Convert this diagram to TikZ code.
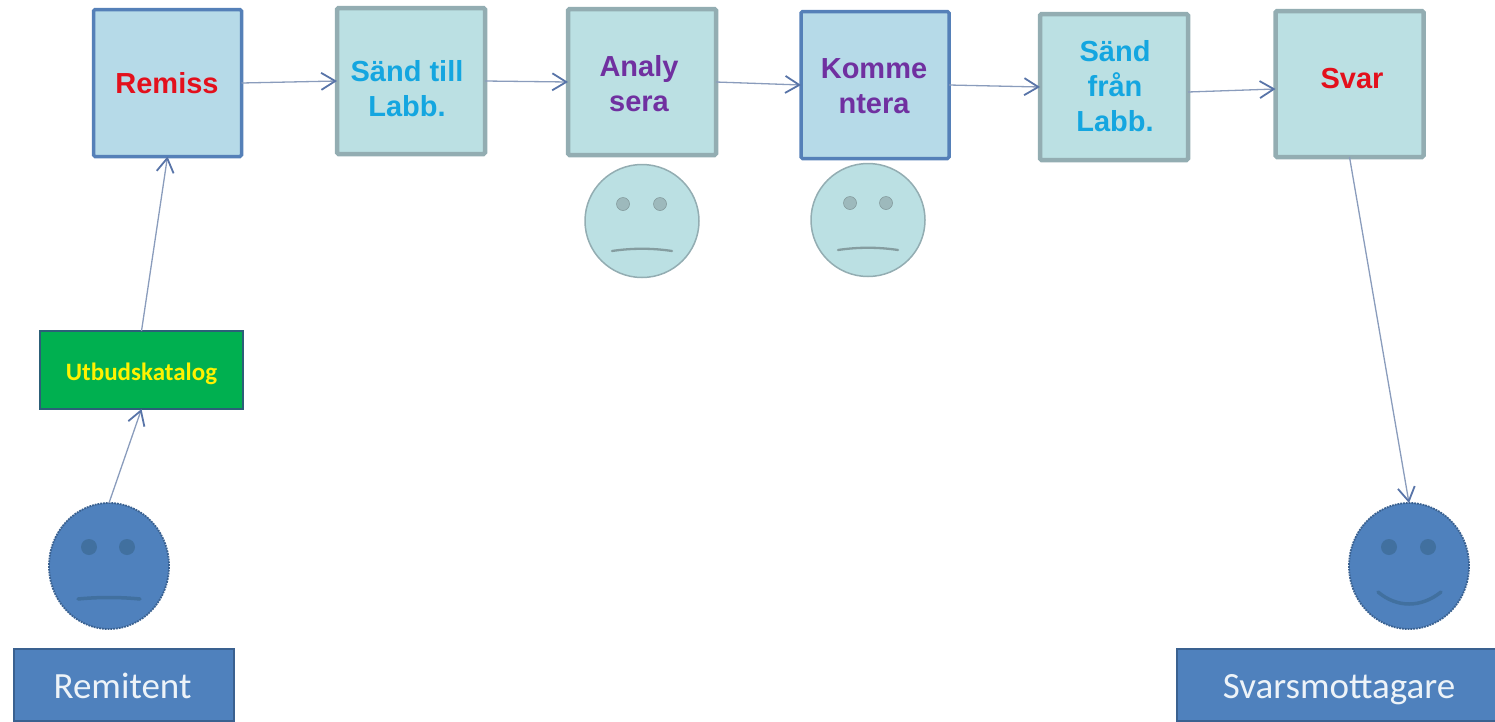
\documentclass[tikz,border=0pt]{standalone}
\usepackage{fontspec}
\setmainfont{Liberation Sans}
\newfontfamily\carl{Carlito}
\usetikzlibrary{arrows.meta,shapes.geometric}
\definecolor{bluefill}{HTML}{B6DAE8}
\definecolor{blueedge}{HTML}{5580B8}
\definecolor{tealfill}{HTML}{BBE0E3}
\definecolor{tealedge}{HTML}{93ADB2}
\definecolor{linec}{HTML}{8A9CBC}
\definecolor{tipc}{HTML}{5874A8}
\definecolor{txtred}{HTML}{E3101C}
\definecolor{txtblue}{HTML}{14A6E0}
\definecolor{txtpurple}{HTML}{7030A0}
\definecolor{gfill}{HTML}{00B050}
\definecolor{gedge}{HTML}{2C5F78}
\definecolor{sblue}{HTML}{4F81BD}
\definecolor{sedge}{HTML}{3A6190}
\definecolor{teye}{HTML}{9DB9BC}
\definecolor{beye}{HTML}{41709F}
\tikzset{
  x=1pt,y=-1pt,
  boxa/.style={draw=blueedge,fill=bluefill,line width=3.5pt,rounded corners=1.5pt,minimum width=148pt,minimum height=147pt,inner sep=0pt,outer sep=0pt},
  boxb/.style={draw=tealedge,fill=tealfill,line width=4.5pt,rounded corners=1.5pt,minimum width=148pt,minimum height=146pt,inner sep=0pt,outer sep=0pt},
  lab/.style={align=center,inner sep=0pt,font=\fontsize{29}{35}\selectfont\bfseries},
  barnode/.style={draw=sedge,fill=sblue,line width=2pt,inner sep=0pt,outer sep=0pt},
  barlab/.style={inner sep=0pt,anchor=base,text=white!90!sblue,font=\carl\fontsize{37}{40}\selectfont},
  tealface/.style={draw=tealedge,fill=tealfill,line width=1.5pt,ellipse,inner sep=0pt,outer sep=0pt,minimum width=114pt,minimum height=113pt},
  blueface/.style={draw=sedge,fill=sblue,line width=1.8pt,densely dotted,ellipse,inner sep=0pt,outer sep=0pt,minimum width=120pt,minimum height=126pt},
  flow/.style={draw=linec,line width=1.3pt,-{Straight Barb[color=tipc,length=14pt,width=17pt,line width=1.8pt]}},
  teyes/.style={fill=teye,draw=teye!80!black,line width=.5pt},
  tmouth/.style={draw=teye!85!black,line width=2.3pt,line cap=round},
  beyes/.style={fill=beye,draw=none},
  bmouth/.style={draw=beye,line width=3.5pt,line cap=round}
}
\begin{document}
\begin{tikzpicture}
\useasboundingbox (0,0) rectangle (1495,721);
% boxes
\node[boxa] (remiss) at (167.5,83) {};
\node[boxb] (sand) at (411,81) {};
\node[boxb] (analys) at (642,82) {};
\node[boxa] (komm) at (875,85) {};
\node[boxb] (sfran) at (1114,87) {};
\node[boxb] (svar) at (1349.5,84) {};
\node[draw=gedge,fill=gfill,line width=2.5pt,minimum width=203pt,minimum height=78pt,inner sep=0pt,outer sep=0pt] (utbud) at (141.5,370) {};
\node[barnode,minimum width=220pt,minimum height=72pt] (remitent) at (123.5,685) {};
\node[barnode,minimum width=319pt,minimum height=72pt] (svarsm) at (1336.5,685) {};
% box texts
\node[lab,text=txtred] (tremiss) at (167,83) {Remiss};
\node[lab,text=txtblue] (tsand) at (407,89) {Sänd till\\Labb.};
\node[lab,text=txtpurple] (tanalys) at (639,84) {Analy\\sera};
\node[lab,text=txtpurple] (tkomm) at (874,86) {Komme\\ntera};
\node[lab,text=txtblue] (tsfran) at (1115,86) {Sänd\\från\\Labb.};
\node[lab,text=txtred] (tsvar) at (1352,79) {Svar};
\node[inner sep=0pt,anchor=base,text=yellow,font=\carl\fontsize{25}{27}\selectfont\bfseries] (tutbud) at (141.5,380) {Utbudskatalog};
\node[barlab] (tremitent) at (122.5,698) {Remitent};
\node[barlab] (tsvarsm) at (1339,698) {Svarsmottagare};
% faces
\node[tealface] (fa) at (642,221) {};
\node[tealface] (fk) at (868,220) {};
\node[blueface] (fr) at (109,566) {};
\node[blueface] (fs) at (1409,566) {};
\begin{scope}[shift={(fa.center)}]
  \fill[teyes] (-19,-17) circle (6.5) (18,-17) circle (6.5);
  \draw[tmouth] (-30,30) .. controls (-10,27) and (10,27) .. (30,30);
\end{scope}
\begin{scope}[shift={(fk.center)}]
  \fill[teyes] (-18,-17) circle (6.5) (18,-17) circle (6.5);
  \draw[tmouth] (-30,30) .. controls (-10,27) and (10,27) .. (30,30);
\end{scope}
\begin{scope}[shift={(fr.center)}]
  \fill[beyes] (-20,-19) circle (8) (18,-19) circle (8);
  \draw[bmouth] (-31,33) .. controls (-11,31) and (11,31) .. (31,33);
\end{scope}
\begin{scope}[shift={(fs.center)}]
  \fill[beyes] (-20,-19) circle (8) (19,-19) circle (8);
  \draw[bmouth] (-31,26) .. controls (-12,42) and (12,42) .. (32,26);
\end{scope}
% connectors
\draw[flow] (fr.north) -- (utbud.south);
\draw[flow] (utbud.north) -- (remiss.south);
\draw[flow] (remiss.east) -- (sand.west);
\draw[flow] (sand.east) -- (analys.west);
\draw[flow] (analys.east) -- (komm.west);
\draw[flow] (komm.east) -- (sfran.west);
\draw[flow] ([yshift=-5pt]sfran.east) -- ([yshift=-5pt]svar.west);
\draw[flow] (svar.south) -- (fs.north);
\end{tikzpicture}
\end{document}
